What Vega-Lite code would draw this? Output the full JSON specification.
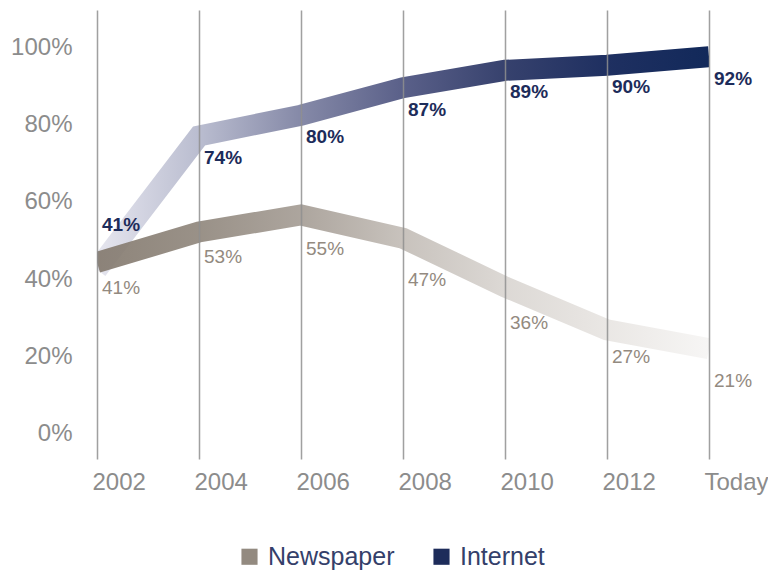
{
  "$schema": "https://vega.github.io/schema/vega-lite/v6.json",
  "width": 612,
  "height": 449,
  "autosize": "none",
  "padding": {"left": 97, "top": 10, "right": 59, "bottom": 114},
  "config": {"view": {"stroke": null}, "font": "Liberation Sans"},
  "data": {
    "values": [
      {"year": "2002", "series": "Internet", "value": 41, "band": 42.5, "label": "41%"},
      {"year": "2004", "series": "Internet", "value": 74, "band": 77, "label": "74%"},
      {"year": "2006", "series": "Internet", "value": 80, "band": 82.4, "label": "80%"},
      {"year": "2008", "series": "Internet", "value": 87, "band": 89.5, "label": "87%"},
      {"year": "2010", "series": "Internet", "value": 89, "band": 94, "label": "89%"},
      {"year": "2012", "series": "Internet", "value": 90, "band": 95.3, "label": "90%"},
      {"year": "Today", "series": "Internet", "value": 92, "band": 97.5, "label": "92%"},
      {"year": "2002", "series": "Newspaper", "value": 41, "band": 44.3, "label": "41%"},
      {"year": "2004", "series": "Newspaper", "value": 53, "band": 52.2, "label": "53%"},
      {"year": "2006", "series": "Newspaper", "value": 55, "band": 56.6, "label": "55%"},
      {"year": "2008", "series": "Newspaper", "value": 47, "band": 50.6, "label": "47%"},
      {"year": "2010", "series": "Newspaper", "value": 36, "band": 38, "label": "36%"},
      {"year": "2012", "series": "Newspaper", "value": 27, "band": 26.9, "label": "27%"},
      {"year": "Today", "series": "Newspaper", "value": 21, "band": 22, "label": "21%"}
    ]
  },
  "encoding": {
    "x": {
      "field": "year",
      "type": "ordinal",
      "sort": null,
      "scale": {"type": "point", "padding": 0},
      "axis": {
        "title": null,
        "domain": false,
        "ticks": false,
        "grid": true,
        "gridColor": "#8f8f8f",
        "gridWidth": 1.5,
        "gridOpacity": 0.85,
        "labelAngle": 0,
        "labelAlign": "left",
        "labelOffset": -5,
        "labelFontSize": 24,
        "labelColor": "#8c8c8c",
        "labelPadding": 11,
        "zindex": 1
      }
    }
  },
  "layer": [
    {
      "transform": [{"filter": "datum.series === 'Internet'"}],
      "mark": {
        "type": "line",
        "strokeWidth": 21,
        "clip": true,
        "strokeJoin": "miter",
        "stroke": {
          "gradient": "linear",
          "x1": 0, "y1": 0, "x2": 1, "y2": 0,
          "stops": [
            {"offset": 0, "color": "#e6e6ef"},
            {"offset": 0.17, "color": "#b9bccf"},
            {"offset": 0.33, "color": "#868aa8"},
            {"offset": 0.5, "color": "#5a6089"},
            {"offset": 0.67, "color": "#36416d"},
            {"offset": 0.83, "color": "#1f3061"},
            {"offset": 1, "color": "#12295a"}
          ]
        }
      },
      "encoding": {
        "y": {
          "field": "band",
          "type": "quantitative",
          "scale": {"domain": [-6.5, 109.6], "nice": false, "zero": false},
          "axis": {
            "title": null,
            "domain": false,
            "ticks": false,
            "grid": false,
            "values": [0, 20, 40, 60, 80, 100],
            "labelExpr": "datum.value + '%'",
            "labelFontSize": 24,
            "labelColor": "#8c8c8c",
            "labelPadding": 25
          }
        }
      }
    },
    {
      "transform": [{"filter": "datum.series === 'Newspaper'"}],
      "mark": {
        "type": "line",
        "strokeWidth": 21,
        "clip": true,
        "opacity": 0.93,
        "strokeJoin": "miter",
        "stroke": {
          "gradient": "linear",
          "x1": 0, "y1": 0, "x2": 1, "y2": 0,
          "stops": [
            {"offset": 0, "color": "#857b70"},
            {"offset": 0.17, "color": "#92897f"},
            {"offset": 0.33, "color": "#a69e96"},
            {"offset": 0.5, "color": "#c4beb8"},
            {"offset": 0.67, "color": "#dad6d2"},
            {"offset": 0.83, "color": "#e8e5e2"},
            {"offset": 1, "color": "#f6f5f4"}
          ]
        }
      },
      "encoding": {
        "y": {"field": "band", "type": "quantitative"}
      }
    },
    {
      "transform": [{"filter": "datum.series === 'Newspaper' && datum.year !== '2002'"}],
      "mark": {"type": "text", "align": "left", "baseline": "middle", "dx": 5, "dy": 28, "fontSize": 19},
      "encoding": {
        "y": {"field": "value", "type": "quantitative"},
        "text": {"field": "label"},
        "color": {
          "field": "series",
          "type": "nominal",
          "scale": {"domain": ["Newspaper", "Internet"], "range": ["#938a80", "#1d2c5a"]},
          "legend": {
            "orient": "none",
            "legendX": 140,
            "legendY": 534,
            "direction": "horizontal",
            "title": null,
            "padding": 0,
            "symbolType": "square",
            "symbolSize": 260,
            "symbolStrokeWidth": 0,
            "symbolOpacity": 1,
            "labelFontSize": 25,
            "labelColor": "#34406a",
            "labelOffset": 6,
            "columnPadding": 34
          }
        }
      }
    },
    {
      "transform": [{"filter": "datum.series === 'Newspaper' && datum.year === '2002'"}],
      "mark": {"type": "text", "align": "left", "baseline": "middle", "dx": 5, "dy": 13, "fontSize": 19},
      "encoding": {
        "y": {"field": "value", "type": "quantitative"},
        "text": {"field": "label"},
        "color": {"field": "series", "type": "nominal"}
      }
    },
    {
      "transform": [{"filter": "datum.series === 'Internet' && datum.year !== '2002'"}],
      "mark": {"type": "text", "align": "left", "baseline": "middle", "dx": 5, "dy": 22, "fontSize": 19, "fontWeight": "bold"},
      "encoding": {
        "y": {"field": "band", "type": "quantitative"},
        "text": {"field": "label"},
        "color": {"field": "series", "type": "nominal"}
      }
    },
    {
      "transform": [{"filter": "datum.series === 'Internet' && datum.year === '2002'"}],
      "mark": {"type": "text", "align": "left", "baseline": "middle", "dx": 5, "dy": -44, "fontSize": 19, "fontWeight": "bold"},
      "encoding": {
        "y": {"field": "band", "type": "quantitative"},
        "text": {"field": "label"},
        "color": {"field": "series", "type": "nominal"}
      }
    }
  ]
}
